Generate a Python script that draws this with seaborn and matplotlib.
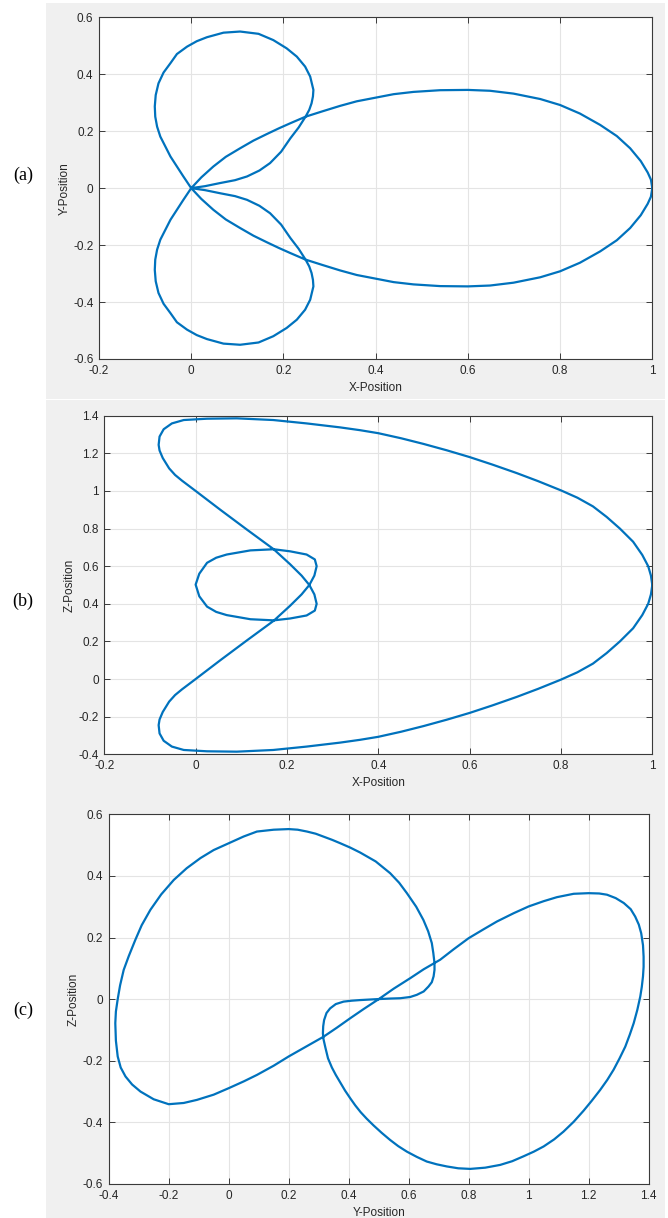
import numpy as np
import pandas as pd
import matplotlib
matplotlib.use("Agg")
import matplotlib.pyplot as plt
from matplotlib.patches import Rectangle
import seaborn as sns

# ---- trajectory projections: (horizontal, vertical) points in drawing order ----
# X-Y view
path_xy = [
    (1.000, 0.000), (0.997, 0.030), (0.990, 0.055), (0.975, 0.095), (0.952, 0.140), (0.923, 0.183), (0.887, 0.222),
    (0.843, 0.262), (0.800, 0.292), (0.757, 0.313), (0.699, 0.332), (0.648, 0.342), (0.600, 0.345), (0.540, 0.344),
    (0.482, 0.338), (0.439, 0.330), (0.400, 0.318), (0.359, 0.305), (0.323, 0.289), (0.285, 0.270), (0.248, 0.251),
    (0.215, 0.228), (0.190, 0.210), (0.164, 0.190), (0.135, 0.167), (0.106, 0.140), (0.075, 0.110), (0.048, 0.076),
    (0.022, 0.038), (0.000, 0.000),
    (-0.017, -0.041), (-0.031, -0.076), (-0.045, -0.111), (-0.056, -0.146), (-0.067, -0.181), (-0.074, -0.216),
    (-0.078, -0.251), (-0.079, -0.287), (-0.077, -0.327), (-0.071, -0.368), (-0.060, -0.406), (-0.045, -0.439),
    (-0.031, -0.471), (-0.009, -0.497), (0.012, -0.516), (0.034, -0.530), (0.070, -0.546), (0.106, -0.550),
    (0.146, -0.542), (0.178, -0.520), (0.207, -0.491), (0.229, -0.462), (0.247, -0.427), (0.258, -0.392),
    (0.265, -0.345), (0.264, -0.322), (0.261, -0.298), (0.256, -0.275), (0.248, -0.251), (0.233, -0.213),
    (0.215, -0.175), (0.195, -0.128), (0.171, -0.088), (0.148, -0.062), (0.121, -0.041), (0.095, -0.028),
    (0.063, -0.018), (0.030, -0.007), (0.000, 0.000),
    (0.030, 0.007), (0.063, 0.018), (0.095, 0.028), (0.121, 0.041), (0.148, 0.062), (0.171, 0.088), (0.195, 0.128),
    (0.215, 0.175), (0.233, 0.213), (0.248, 0.251), (0.256, 0.275), (0.261, 0.298), (0.264, 0.322), (0.265, 0.345),
    (0.258, 0.392), (0.247, 0.427), (0.229, 0.462), (0.207, 0.491), (0.178, 0.520), (0.146, 0.542), (0.106, 0.550),
    (0.070, 0.546), (0.034, 0.530), (0.012, 0.516), (-0.009, 0.497), (-0.031, 0.471), (-0.045, 0.439), (-0.060, 0.406),
    (-0.071, 0.368), (-0.077, 0.327), (-0.079, 0.287), (-0.078, 0.251), (-0.074, 0.216), (-0.067, 0.181),
    (-0.056, 0.146), (-0.045, 0.111), (-0.031, 0.076), (-0.017, 0.041), (0.000, 0.000),
    (0.022, -0.038), (0.048, -0.076), (0.075, -0.110), (0.106, -0.140), (0.135, -0.167), (0.164, -0.190),
    (0.190, -0.210), (0.215, -0.228), (0.248, -0.251), (0.285, -0.270), (0.323, -0.289), (0.359, -0.305),
    (0.400, -0.318), (0.439, -0.330), (0.482, -0.338), (0.540, -0.344), (0.600, -0.345), (0.648, -0.342),
    (0.699, -0.332), (0.757, -0.313), (0.800, -0.292), (0.843, -0.262), (0.887, -0.222), (0.923, -0.183),
    (0.952, -0.140), (0.975, -0.095), (0.990, -0.055), (0.997, -0.030), (1.000, 0.000),
]

# X-Z view
path_xz = [
    (1.000, 0.500), (0.997, 0.550), (0.991, 0.600), (0.978, 0.660), (0.958, 0.730), (0.929, 0.800), (0.900, 0.862),
    (0.870, 0.918), (0.836, 0.964), (0.800, 1.003), (0.750, 1.052), (0.703, 1.095), (0.650, 1.140), (0.600, 1.180),
    (0.550, 1.216), (0.499, 1.250), (0.450, 1.280), (0.400, 1.307), (0.360, 1.323), (0.316, 1.338), (0.243, 1.359),
    (0.170, 1.377), (0.090, 1.386), (0.025, 1.384), (-0.026, 1.377), (-0.052, 1.359), (-0.070, 1.328),
    (-0.079, 1.289), (-0.081, 1.245), (-0.079, 1.215), (-0.072, 1.175), (-0.058, 1.120), (-0.045, 1.085),
    (-0.030, 1.055), (0.000, 1.000), (0.054, 0.900), (0.112, 0.795), (0.171, 0.690), (0.207, 0.610),
    (0.232, 0.550), (0.249, 0.500), (0.260, 0.450), (0.265, 0.400), (0.261, 0.364), (0.243, 0.338), (0.207, 0.322),
    (0.171, 0.312), (0.120, 0.318), (0.068, 0.340), (0.045, 0.357), (0.025, 0.385), (0.008, 0.440), (0.000, 0.502),
    (0.008, 0.560), (0.025, 0.618), (0.045, 0.645), (0.068, 0.662), (0.120, 0.684), (0.171, 0.690), (0.207, 0.679),
    (0.243, 0.662), (0.261, 0.636), (0.265, 0.600), (0.260, 0.550), (0.249, 0.500), (0.232, 0.450), (0.207, 0.390),
    (0.171, 0.310), (0.112, 0.205), (0.054, 0.100), (0.000, 0.000), (-0.030, -0.055), (-0.045, -0.085),
    (-0.058, -0.120), (-0.072, -0.175), (-0.079, -0.215), (-0.081, -0.245), (-0.079, -0.289), (-0.070, -0.328),
    (-0.052, -0.359), (-0.026, -0.377), (0.025, -0.384), (0.090, -0.386), (0.170, -0.377), (0.243, -0.359),
    (0.316, -0.338), (0.360, -0.323), (0.400, -0.307), (0.450, -0.280), (0.499, -0.250), (0.550, -0.216),
    (0.600, -0.180), (0.650, -0.140), (0.703, -0.095), (0.750, -0.052), (0.800, -0.003), (0.836, 0.036),
    (0.870, 0.082), (0.900, 0.138), (0.929, 0.200), (0.958, 0.270), (0.978, 0.340), (0.991, 0.400), (0.997, 0.450),
    (1.000, 0.500),
]

# Y-Z view
path_yz = [
    (0.500, 0.000), (0.550, 0.034), (0.605, 0.068), (0.650, 0.097), (0.705, 0.128), (0.750, 0.162), (0.800, 0.198),
    (0.850, 0.227), (0.894, 0.252), (0.950, 0.279), (1.000, 0.301), (1.050, 0.318), (1.094, 0.331), (1.150, 0.342),
    (1.200, 0.344), (1.235, 0.343), (1.261, 0.339), (1.290, 0.328), (1.317, 0.312), (1.340, 0.292), (1.355, 0.268),
    (1.367, 0.242), (1.375, 0.214), (1.381, 0.175), (1.383, 0.138), (1.383, 0.105), (1.381, 0.074), (1.377, 0.040),
    (1.372, 0.009), (1.362, -0.035), (1.350, -0.078), (1.337, -0.115), (1.322, -0.154), (1.303, -0.192),
    (1.283, -0.229), (1.262, -0.262), (1.238, -0.295), (1.210, -0.330), (1.183, -0.362), (1.150, -0.398),
    (1.116, -0.430), (1.085, -0.455), (1.050, -0.478), (1.017, -0.495), (0.983, -0.510), (0.945, -0.526),
    (0.905, -0.538), (0.855, -0.547), (0.805, -0.551), (0.765, -0.549), (0.727, -0.543), (0.693, -0.536),
    (0.660, -0.527), (0.627, -0.512), (0.594, -0.495), (0.565, -0.477), (0.538, -0.457), (0.510, -0.434),
    (0.483, -0.410), (0.460, -0.388), (0.440, -0.367), (0.422, -0.345), (0.406, -0.323), (0.388, -0.297),
    (0.372, -0.271), (0.357, -0.246), (0.344, -0.222), (0.331, -0.192), (0.322, -0.156), (0.316, -0.130),
    (0.314, -0.111), (0.315, -0.088), (0.318, -0.068), (0.326, -0.045), (0.338, -0.030), (0.357, -0.016),
    (0.383, -0.008), (0.410, -0.005), (0.438, -0.003), (0.494, 0.000), (0.540, 0.002), (0.572, 0.003),
    (0.605, 0.007), (0.627, 0.014), (0.650, 0.025), (0.666, 0.041), (0.677, 0.055), (0.683, 0.074), (0.686, 0.095),
    (0.686, 0.117), (0.682, 0.150), (0.677, 0.182), (0.665, 0.220), (0.649, 0.257), (0.625, 0.300), (0.594, 0.344),
    (0.568, 0.378), (0.538, 0.409), (0.490, 0.447), (0.438, 0.476), (0.405, 0.492), (0.372, 0.506), (0.345, 0.517),
    (0.317, 0.527), (0.290, 0.537), (0.261, 0.544), (0.230, 0.550), (0.200, 0.552), (0.150, 0.550), (0.094, 0.544),
    (0.050, 0.528), (0.000, 0.506), (-0.050, 0.484), (-0.094, 0.458), (-0.140, 0.425), (-0.183, 0.387),
    (-0.225, 0.340), (-0.261, 0.290), (-0.290, 0.240), (-0.311, 0.193), (-0.333, 0.140), (-0.350, 0.095),
    (-0.362, 0.045), (-0.370, 0.000), (-0.376, -0.040), (-0.378, -0.078), (-0.376, -0.135), (-0.370, -0.186),
    (-0.360, -0.222), (-0.344, -0.251), (-0.322, -0.277), (-0.294, -0.300), (-0.250, -0.325), (-0.200, -0.341),
    (-0.150, -0.337), (-0.106, -0.327), (-0.050, -0.310), (0.000, -0.289), (0.050, -0.267), (0.094, -0.246),
    (0.150, -0.216), (0.200, -0.186), (0.260, -0.153), (0.316, -0.122), (0.360, -0.093), (0.405, -0.062),
    (0.450, -0.032), (0.500, 0.000),
]

# ---- tick values / labels ----
ticks_x_a = [-0.2, 0, 0.2, 0.4, 0.6, 0.8, 1]
labels_x_a = ["-0.2", "0", "0.2", "0.4", "0.6", "0.8", "1"]
ticks_y_a = [-0.6, -0.4, -0.2, 0, 0.2, 0.4, 0.6]
labels_y_a = ["-0.6", "-0.4", "-0.2", "0", "0.2", "0.4", "0.6"]
ticks_y_b = [-0.4, -0.2, 0, 0.2, 0.4, 0.6, 0.8, 1, 1.2, 1.4]
labels_y_b = ["-0.4", "-0.2", "0", "0.2", "0.4", "0.6", "0.8", "1", "1.2", "1.4"]
ticks_x_c = [-0.4, -0.2, 0, 0.2, 0.4, 0.6, 0.8, 1, 1.2, 1.4]
labels_x_c = ["-0.4", "-0.2", "0", "0.2", "0.4", "0.6", "0.8", "1", "1.2", "1.4"]

panel_tags = ["(a)", "(b)", "(c)"]

sns.set_theme(style="white")
plt.rcParams["font.family"] = ["Liberation Sans", "DejaVu Sans"]

W, H = 668, 1218
fig = plt.figure(figsize=(W / 100, H / 100), dpi=100)
fig.patch.set_facecolor("white")

# grey figure-window backgrounds, kept underneath the axes
for (y0, y1) in [(3, 399), (400, H)]:
    fig.patches.append(Rectangle((46 / W, 1 - y1 / H), (665 - 46) / W, (y1 - y0) / H,
                                 transform=fig.transFigure, facecolor="#f0f0f0",
                                 edgecolor="none", zorder=-10))

LINE = "#0072BD"
AX = "#262626"


def make_axes(l, r, t, b):
    return fig.add_axes([l / W, 1 - b / H, (r - l) / W, (b - t) / H], zorder=5)


def style(ax, xt, xl, yt, yl, xlim, ylim, xlabel, ylabel):
    ax.set_facecolor("white")
    ax.set_xlim(*xlim)
    ax.set_ylim(*ylim)
    ax.set_xticks(xt)
    ax.set_xticklabels(xl)
    ax.set_yticks(yt)
    ax.set_yticklabels(yl)
    ax.grid(True, color="#e4e4e4", lw=0.8)
    ax.set_axisbelow(True)
    for s in ax.spines.values():
        s.set_color("#3a3a3a")
        s.set_linewidth(0.8)
        s.set_visible(True)
    ax.tick_params(direction="in", length=4, width=0.7, color="#3a3a3a",
                   top=True, right=True, bottom=True, left=True,
                   labelsize=8.5, labelcolor=AX, pad=4)
    ax.set_xlabel(xlabel, fontsize=8.5, color=AX, labelpad=4)
    ax.set_ylabel(ylabel, fontsize=8.5, color=AX, labelpad=2)


def draw(ax, pts, cols):
    df = pd.DataFrame(pts, columns=cols)
    sns.lineplot(data=df, x=cols[0], y=cols[1], sort=False, estimator=None, ax=ax,
                 color=LINE, lw=1.6)


# (a) X-Y
ax1 = make_axes(99, 652.3, 17.3, 359)
draw(ax1, path_xy, ["x", "y"])
style(ax1, ticks_x_a, labels_x_a, ticks_y_a, labels_y_a, (-0.2, 1), (-0.6, 0.6), "X-Position", "Y-Position")

# (b) X-Z
ax2 = make_axes(104.3, 652.3, 415.7, 754.3)
draw(ax2, path_xz, ["x", "z"])
style(ax2, ticks_x_a, labels_x_a, ticks_y_b, labels_y_b, (-0.2, 1), (-0.4, 1.4), "X-Position", "Z-Position")

# (c) Y-Z
ax3 = make_axes(108.7, 648.7, 814.3, 1184)
draw(ax3, path_yz, ["h", "v"])
style(ax3, ticks_x_c, labels_x_c, ticks_y_a, labels_y_a, (-0.4, 1.4), (-0.6, 0.6), "Y-Position", "Z-Position")

for tag, yc in zip(panel_tags, [175, 601, 1010]):
    fig.text(23 / W, 1 - yc / H, tag, ha="center", va="center", fontsize=13,
             family=["Liberation Serif", "DejaVu Serif"], color="black")

fig.savefig("out.png", dpi=100, facecolor="white")
